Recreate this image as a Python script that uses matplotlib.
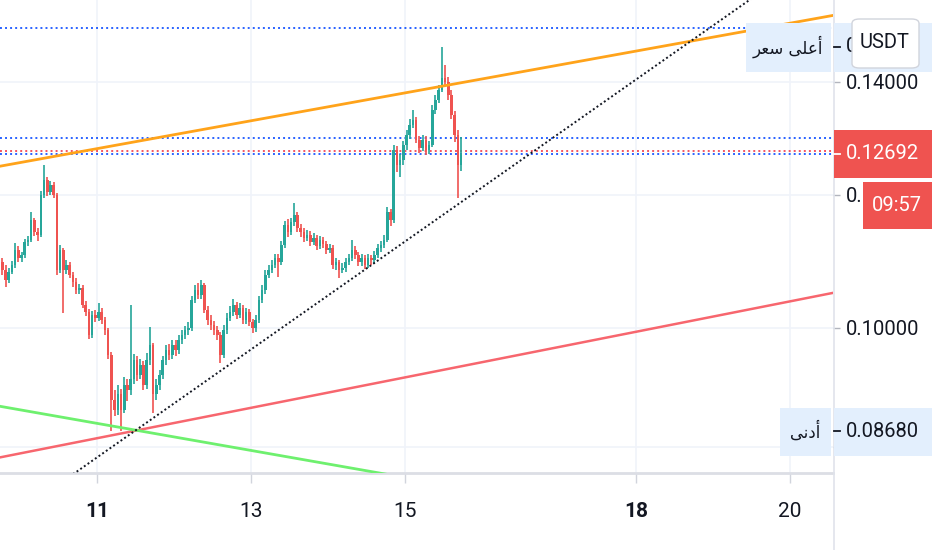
import numpy as np
import matplotlib
matplotlib.use('Agg')
import matplotlib.pyplot as plt
from matplotlib.patches import Rectangle, FancyBboxPatch
from matplotlib.lines import Line2D
from matplotlib.ticker import FixedLocator, NullLocator, FixedFormatter, NullFormatter
from matplotlib import font_manager as fm

# ---------------- data ----------------
first_open = 0.1094
closes = [
    .1083, .1068, .1080, .1090, .1113, .1100, .1105, .1125, .1128, .1159,
    .1140, .1136, .1200, .1224, .1205, .1216, .1200, .1083, .1113, .1083,
    .1090, .1075, .1065, .1053, .1056, .1032, .1022, .0990, .1018, .1014,
    .1022, .1011, .0997, .0964, .0906, .0894, .0913, .0894, .0925, .0919,
    .0932, .0957, .0938, .0951, .0925, .0957, .0977, .0913, .0925, .0938,
    .0957, .0970, .0964, .0977, .0970, .0984, .0990, .0997, .1000, .1039,
    .1053, .1046, .1060, .1025, .1011, .1004, .0997, .0990, .0964, .0997,
    .1014, .1022, .1032, .1018, .1028, .1011, .1022, .1008, .1000, .1011,
    .1039, .1053, .1075, .1083, .1090, .1100, .1094, .1120, .1151, .1140,
    .1156, .1167, .1147, .1140, .1131, .1136, .1125, .1131, .1119, .1128,
    .1122, .1113, .1116, .1090, .1094, .1083, .1086, .1094, .1100, .1113,
    .1105, .1094, .1100, .1090, .1100, .1097, .1105, .1116, .1120, .1128,
    .1172, .1159, .1275, .1250, .1258, .1284, .1302, .1320, .1329, .1293,
    .1279, .1293, .1275, .1284, .1347, .1366, .1385, .1408, .1400, .1376,
    .1338, .1302, .1250, .12692]
highs = [
    .1100, .1090, .1086, .1096, .1123, .1118, .1110, .1130, .1134, .1172,
    .1163, .1146, .1206, .1250, .1230, .1222, .1221, .1203, .1120, .1116,
    .1097, .1094, .1080, .1070, .1062, .1060, .1038, .1026, .1024, .1025,
    .1035, .1027, .1015, .1000, .0968, .0918, .0925, .0920, .0935, .0932,
    .1032, .0965, .0962, .0958, .0956, .0966, .1001, .0980, .0932, .0944,
    .0962, .0977, .0978, .0984, .0983, .0990, .0997, .1003, .1008, .1045,
    .1060, .1064, .1068, .1064, .1030, .1018, .1010, .1002, .0994, .1004,
    .1020, .1030, .1040, .1036, .1035, .1032, .1028, .1026, .1012, .1018,
    .1045, .1060, .1082, .1090, .1097, .1107, .1106, .1127, .1158, .1160,
    .1163, .1186, .1172, .1153, .1146, .1143, .1141, .1138, .1136, .1134,
    .1133, .1127, .1122, .1120, .1100, .1098, .1093, .1100, .1107, .1128,
    .1118, .1110, .1106, .1105, .1106, .1105, .1111, .1122, .1127, .1135,
    .1180, .1177, .1285, .1282, .1268, .1292, .1310, .1330, .1347, .1335,
    .1300, .1302, .1300, .1292, .1356, .1375, .1395, .1469, .1432, .1410,
    .1385, .1345, .1310, .1298]
lows = [
    .1075, .1058, .1064, .1076, .1086, .1095, .1094, .1101, .1118, .1124,
    .1134, .1127, .1132, .1195, .1198, .1200, .1194, .1075, .1078, .1021,
    .1076, .1070, .1058, .1048, .1047, .1027, .1016, .0985, .0986, .1008,
    .1010, .1005, .0990, .0958, .0868, .0886, .0888, .0869, .0890, .0905,
    .0912, .0926, .0930, .0932, .0918, .0920, .0950, .0890, .0906, .0918,
    .0932, .0950, .0957, .0958, .0962, .0965, .0978, .0985, .0991, .0996,
    .1034, .1040, .1041, .1020, .1004, .0997, .0990, .0984, .0953, .0960,
    .0992, .1009, .1016, .1012, .1013, .1005, .1006, .1002, .0993, .0995,
    .1007, .1034, .1048, .1070, .1078, .1085, .1072, .1090, .1115, .1133,
    .1135, .1150, .1140, .1133, .1125, .1126, .1118, .1120, .1113, .1114,
    .1116, .1107, .1108, .1084, .1083, .1070, .1078, .1080, .1090, .1096,
    .1099, .1088, .1089, .1084, .1085, .1090, .1092, .1100, .1110, .1115,
    .1124, .1150, .1155, .1238, .1229, .1250, .1276, .1295, .1314, .1287,
    .1270, .1273, .1266, .1268, .1280, .1340, .1360, .1380, .1392, .1366,
    .1330, .1290, .1195, .1240]
first_time = 9.77          # day of month of first hourly candle
candle_hours = 1 / 24

x_ticks = [11, 13, 15, 18, 20]
x_labels = ['11', '13', '15', '18', '20']
bold_x = ['11', '18']
y_ticks = [0.085, 0.10, 0.12, 0.14]

# drawn trend lines: (day, price) anchors
orange_t, orange_p = [9.675, 20.65], [0.1246, 0.1536]
black_t, black_p = [10.545, 19.662], [0.0810, 0.1588]
red_t, red_p = [9.70, 20.60], [0.0837, 0.1050]
green_t, green_p = [9.70, 15.195], [0.0899, 0.0812]
blue_levels = [0.1507, 0.1297, 0.1268]
red_level = 0.1273
countdown = '09:57'
currency = 'USDT'
# Arabic labels, pre-shaped (visual order) so they render joined
high_word = '\uFEAE\uFECC\uFEB3 \uFEF0\uFEE0\uFECB\uFE83'   # أعلى سعر
low_word = '\uFEF0\uFEE7\uFEA9\uFE83'                       # أدنى

# ---------------- style ----------------
names = {f.name for f in fm.fontManager.ttflist}
NARROW = 'Liberation Sans Narrow' if 'Liberation Sans Narrow' in names else 'Roboto'
FS = 17 if NARROW == 'Liberation Sans Narrow' else 14.5
plt.rcParams['font.family'] = [NARROW, 'DejaVu Sans']

UP, DOWN = '#26a69a', '#ef5350'
TXT = '#131722'
GRID = '#f0f3fa'

W, H = 932, 550
fig = plt.figure(figsize=(W / 100, H / 100), dpi=100)
fig.patch.set_facecolor('white')
ax = fig.add_axes([0, 1 - 473 / H, 833 / W, 473 / H])
ax.set_yscale('log')
ax.set_xlim(9.74, 9.74 + 833 / 77)
ax.set_ylim(0.0820, 0.1566)

# candles
o = np.array([first_open] + closes[:-1])
c = np.array(closes)
hi = np.array(highs)
lo = np.array(lows)
t = first_time + np.arange(len(c)) * candle_hours
cols = np.where(c >= o, UP, DOWN)
ax.vlines(t, lo, hi, colors=cols, lw=1.2, zorder=3)
ax.bar(t, np.maximum(np.abs(c - o), 0.00006), bottom=np.minimum(o, c),
       width=0.034, color=cols, linewidth=0, zorder=4)

# lines
ax.plot(orange_t, orange_p, color='#ffa31a', lw=2.0, zorder=5)
ax.plot(red_t, red_p, color='#f7666e', lw=1.8, zorder=5)
ax.plot(green_t, green_p, color='#6ef06e', lw=2.0, zorder=5)
ax.plot(black_t, black_p, color=TXT, lw=1.4, ls=(0, (1, 1.3)), zorder=5)
for lv in blue_levels:
    ax.axhline(lv, color='#2962ff', lw=1.4, ls=(0, (1, 1.6)), zorder=2)
ax.axhline(red_level, color='#f23645', lw=1.4, ls=(0, (1, 1.6)), alpha=0.85, zorder=2)

# axes styling
ax.yaxis.tick_right()
ax.yaxis.set_major_locator(FixedLocator(y_ticks))
ax.yaxis.set_major_formatter(FixedFormatter(['%.5f' % v for v in y_ticks]))
ax.yaxis.set_minor_locator(NullLocator())
ax.yaxis.set_minor_formatter(NullFormatter())
ax.set_xticks(x_ticks)
ax.set_xticklabels(x_labels)
for lab in ax.get_xticklabels():
    if lab.get_text() in bold_x:
        lab.set_fontweight('bold')
ax.tick_params(axis='y', which='major', right=True, left=False, length=5, width=1,
               color='#b2b5be', labelsize=FS, labelcolor=TXT, pad=4)
ax.tick_params(axis='x', which='major', length=7, width=1, color='#d1d4dc',
               labelsize=FS + 0.5, labelcolor=TXT, pad=14)
for s in ['top', 'left', 'right']:
    ax.spines[s].set_visible(False)
ax.spines['bottom'].set_color('#dcdee5')
ax.spines['bottom'].set_linewidth(2.0)
ax.grid(True, color=GRID, lw=1.2, zorder=0)
ax.set_axisbelow(True)

# full-height separator on the price scale edge
fig.add_artist(Line2D([833.5 / W, 833.5 / W], [0, 1], color='#e0e3eb', lw=1.2, zorder=1))


def py(price):
    """pixel row (from top) of a price on the axes scale"""
    return H - ax.transData.transform((12, price))[1]


def rect(x0, y0, x1, y1, color, z=5, **kw):
    fig.add_artist(Rectangle((x0 / W, 1 - y1 / H), (x1 - x0) / W, (y1 - y0) / H,
                             transform=fig.transFigure, facecolor=color,
                             edgecolor='none', zorder=z, **kw))


def txt(x, y, s, color=TXT, ha='left', z=6, **kw):
    fig.text(x / W, 1 - y / H, s, color=color, ha=ha, va='center',
             fontsize=kw.pop('fontsize', FS), zorder=z, **kw)


def dash(y, color):
    fig.add_artist(Line2D([834 / W, 840 / W], [1 - y / H, 1 - y / H],
                          color=color, lw=1.3, zorder=6))


LX = 846
LIGHT = '#e3effd'
# high label
yh = py(max(highs))
rect(746, yh - 24, 831, yh + 25, LIGHT)
rect(834, yh - 24, W, yh + 25, LIGHT)
txt(788, yh, high_word, ha='center', family=['DejaVu Sans'], fontsize=12)
dash(yh, TXT)
txt(LX, yh, '%.5f' % max(highs))

# low label
yl = py(min(lows))
rect(780, yl - 23, 831, yl + 25, LIGHT)
rect(834, yl - 23, W, yl + 25, LIGHT)
txt(805, yl, low_word, ha='center', family=['DejaVu Sans'], fontsize=12)
dash(yl, TXT)
txt(LX, yl, '%.5f' % min(lows))

# current price label + countdown
yc = py(closes[-1])
rect(834, yc - 24, W, yc + 24, '#ef5350')
dash(yc, 'white')
txt(LX, yc, '%.5f' % closes[-1], color='white')
rect(863, yc + 28, W, yc + 75, '#ef5350')
txt(897, yc + 51.5, countdown, color='white', ha='center')

# currency badge
fig.add_artist(FancyBboxPatch((852 / W, 1 - 68 / H), 67 / W, 49 / H,
                              boxstyle='round,pad=0,rounding_size=0.008',
                              transform=fig.transFigure, facecolor='white',
                              edgecolor='#d1d4dc', lw=1.0, zorder=7))
txt(885, 43, currency, ha='center', z=8)

fig.savefig('out.png', dpi=100)
